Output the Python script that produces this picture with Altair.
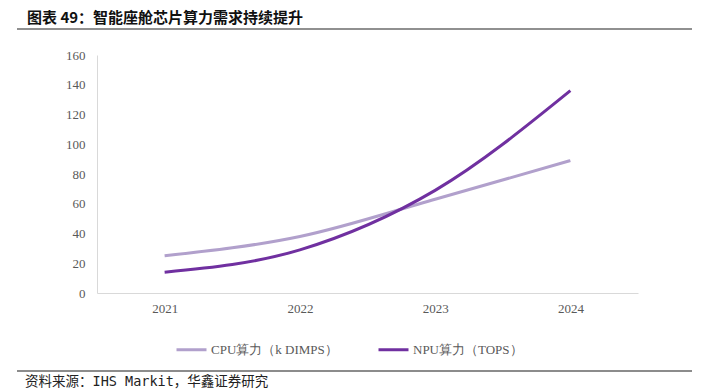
import altair as alt
import pandas as pd

years = ["2021", "2022", "2023", "2024"]
cpu = [25, 38, 63, 89]
npu = [14, 29, 69, 136]
series = ["CPU算力（k DIMPS）", "NPU算力（TOPS）"]
colors = ["#b1a0cc", "#7030a0"]
y_ticks = [0, 20, 40, 60, 80, 100, 120, 140, 160]
title_text = "图表 49：智能座舱芯片算力需求持续提升"
source_text = "资料来源：IHS Markit，华鑫证券研究"

rows = []
for i, yr in enumerate(years):
    rows.append({"year": yr, "series": series[0], "value": cpu[i]})
    rows.append({"year": yr, "series": series[1], "value": npu[i]})
df = pd.DataFrame(rows)

SERIF = "Liberation Serif"
CJK = "Noto Sans CJK SC"

lines = alt.Chart(df).mark_line(strokeWidth=3, interpolate="monotone").encode(
    x=alt.X("year:O", sort=years,
            scale=alt.Scale(type="point", padding=0.5),
            axis=alt.Axis(title=None, labelAngle=0, ticks=False, domainColor="#d9d9d9",
                          domainWidth=1, labelColor="#595959", labelFont=SERIF,
                          labelFontSize=13, labelPadding=9)),
    y=alt.Y("value:Q", scale=alt.Scale(domain=[0, 160], nice=False),
            axis=alt.Axis(title=None, values=y_ticks, grid=False, ticks=False,
                          domainColor="#d9d9d9", domainWidth=1, labelColor="#595959",
                          labelFont=SERIF, labelFontSize=13, labelPadding=12)),
    color=alt.Color("series:N", sort=series,
                    scale=alt.Scale(domain=series, range=colors),
                    legend=alt.Legend(title=None, orient="none", legendX=78, legendY=278,
                                      direction="horizontal", symbolType="stroke",
                                      symbolStrokeWidth=3, symbolSize=900,
                                      labelFont=SERIF, labelFontSize=13,
                                      labelColor="#595959", columnPadding=34,
                                      labelOffset=3)),
)

title = alt.Chart(pd.DataFrame({"t": [title_text]})).mark_text(
    align="left", baseline="middle", font=CJK, fontSize=15, fontWeight="bold",
    color="#111111"
).encode(x=alt.value(-70), y=alt.value(-37), text="t:N")

top_rule = alt.Chart(pd.DataFrame({"a": [0]})).mark_rule(color="#222222", strokeWidth=1.2).encode(
    x=alt.value(-80), x2=alt.value(595), y=alt.value(-26))

bottom_rule = alt.Chart(pd.DataFrame({"b": [1]})).mark_rule(color="#666666", strokeWidth=1.5).encode(
    x=alt.value(-80), x2=alt.value(595), y=alt.value(316))

source = alt.Chart(pd.DataFrame({"t": [source_text]})).mark_text(
    align="left", baseline="middle", font="DejaVu Sans Mono, Noto Sans CJK SC",
    fontSize=13.5, color="#222222"
).encode(x=alt.value(-72), y=alt.value(327), text="t:N")

chart = alt.layer(lines, title, top_rule, bottom_rule, source).properties(
    width=541, height=238,
    autosize=alt.AutoSizeParams(type="none"),
    padding={"left": 89, "top": 47, "right": 62, "bottom": 96},
).configure_view(stroke=None).configure_axis(labelFont=SERIF)

chart.save("out.html", embed_options={"renderer": "svg", "actions": False})
